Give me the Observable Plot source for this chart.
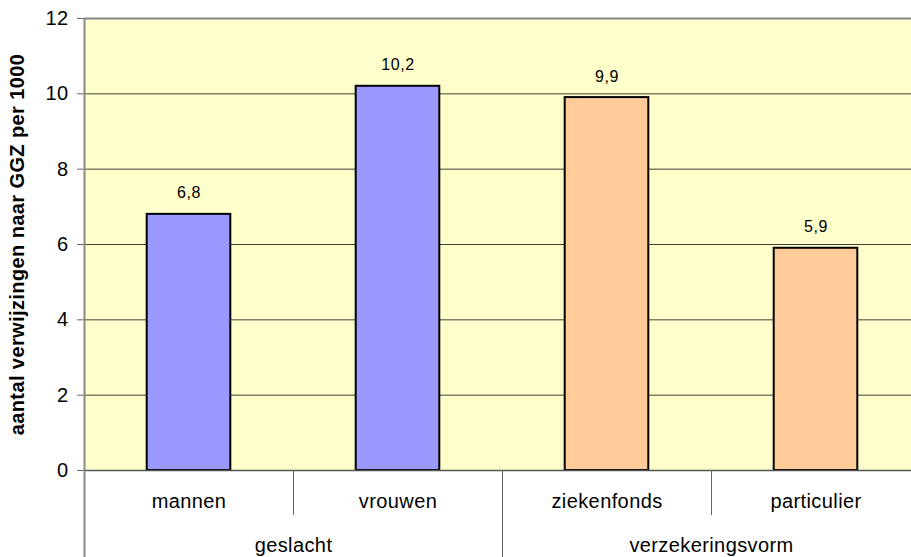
<!DOCTYPE html>
<html>
<head>
<meta charset="utf-8">
<script src="https://cdn.jsdelivr.net/npm/d3@7"></script>
<script src="https://cdn.jsdelivr.net/npm/@observablehq/plot@0.6"></script>
<style>
  html, body { margin: 0; padding: 0; overflow: hidden; background: white; }
  #chart { width: 911px; height: 557px; overflow: hidden; }
  #chart svg { max-width: none; }
  #chart svg text { letter-spacing: 0.4px; }
  #chart svg .values text { letter-spacing: 0.6px; }
</style>
</head>
<body>
<main id="chart"></main>
<script>
// chart values
const categories = ["mannen", "vrouwen", "ziekenfonds", "particulier"];
const values = [6.8, 10.2, 9.9, 5.9];
const groupOf = ["geslacht", "geslacht", "verzekeringsvorm", "verzekeringsvorm"];
const groups = ["geslacht", "verzekeringsvorm"];
const groupColors = ["#9999FF", "#FFCC99"];
const yTicks = [0, 2, 4, 6, 8, 10, 12];
const yLabel = "aantal verwijzingen naar GGZ per 1000";

// one row per bar, position is just the index of the category
let rows = categories.map((c, i) => ({cat: c, pos: i, value: values[i], group: groupOf[i]}));

// centre of each group = mean of its category centres
let groupCenters = groups.map(g => d3.mean(rows.filter(d => d.group === g), d => d.pos + 0.5));
let groupEdges = groups.slice(1).map(g => rows.find(d => d.group === g).pos);
let innerEdges = rows.filter((d, i) => i > 0 && rows[i - 1].group === d.group).map(d => d.pos);

let chart = Plot.plot({
  width: 920,
  height: 557,
  marginTop: 18,
  marginBottom: 87,
  marginLeft: 84,
  marginRight: 0,
  x: {domain: [0, categories.length]},
  y: {domain: [0, 12]},
  color: {domain: groups, range: groupColors},
  style: {fontFamily: "'Liberation Sans', Arial, sans-serif", color: "black", background: "white"},
  marks: [
    Plot.frame({fill: "#FFFFCC", stroke: null}),
    Plot.gridY(yTicks.filter(t => t > 0 && t < 12), {stroke: "black", strokeOpacity: 0.75}),
    Plot.ruleY([12], {stroke: "#888", strokeWidth: 2}),
    Plot.rectY(rows, {
      x1: d => d.pos + 0.3,
      x2: d => d.pos + 0.7,
      y: "value",
      fill: "group",
      stroke: "black",
      strokeWidth: 2
    }),
    Plot.ruleY([0], {stroke: "#555", strokeWidth: 1.5}),
    Plot.axisY({ticks: yTicks, tickSize: 7, tickPadding: 9, fontSize: 20, label: null, stroke: "#666"}),
    Plot.ruleX([0], {stroke: "#888", strokeWidth: 2, insetBottom: -87}),
    // short dividers between categories, long between groups
    Plot.axisX({ticks: innerEdges, tickSize: 45, tickFormat: () => "", stroke: "#666", label: null}),
    Plot.axisX({ticks: groupEdges, tickSize: 87, tickFormat: () => "", stroke: "#666", label: null}),
    Plot.axisX({
      ticks: rows.map(d => d.pos + 0.5),
      tickSize: 0,
      tickPadding: 23,
      tickFormat: v => categories[Math.floor(v)],
      fontSize: 20,
      label: null
    }),
    Plot.axisX({
      ticks: groupCenters,
      tickSize: 0,
      tickPadding: 67,
      tickFormat: (v, i) => groups[i],
      fontSize: 20,
      label: null
    }),
    Plot.text(rows, {
      x: d => d.pos + 0.5,
      y: "value",
      text: d => d3.format(".1f")(d.value).replace(".", ","),
      dy: -21,
      fontSize: 16,
      lineAnchor: "middle",
      className: "values"
    }),
    Plot.text([yLabel], {
      frameAnchor: "left",
      textAnchor: "middle",
      rotate: -90,
      dx: -67,
      fontSize: 20,
      fontWeight: "bold",
      lineAnchor: "middle"
    })
  ]
});

d3.select("#chart").append(() => chart);
</script>
</body>
</html>
